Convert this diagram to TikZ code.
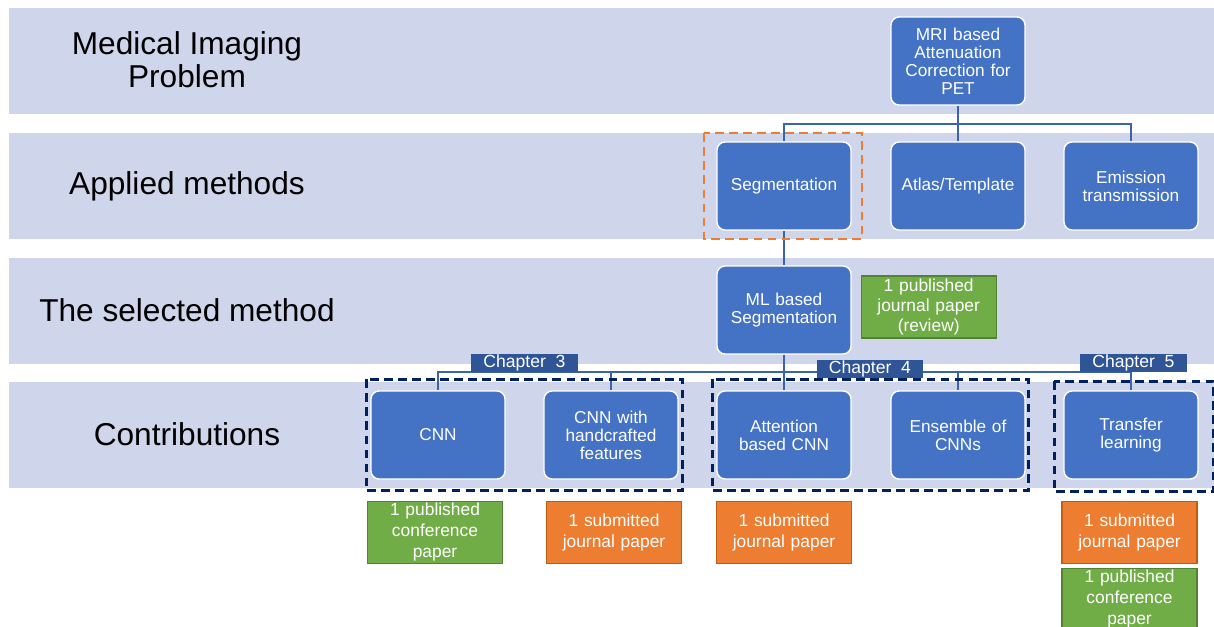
\documentclass[tikz,border=0pt]{standalone}
\usepackage{fontspec}
\setmainfont{Liberation Sans}
\usetikzlibrary{positioning}
\definecolor{bandcol}{HTML}{CFD5EA}
\definecolor{boxblue}{HTML}{4472C4}
\definecolor{linkblue}{HTML}{3A64B0}
\definecolor{chapblue}{HTML}{2F5597}
\definecolor{navy}{HTML}{002060}
\definecolor{papgreen}{HTML}{70AD47}
\definecolor{papgreend}{HTML}{548235}
\definecolor{paporange}{HTML}{ED7D31}
\definecolor{paporanged}{HTML}{C55A11}
\tikzset{
  band/.style = {fill=bandcol, draw=none},% bande de fond
  lbl/.style = {align=center, font=\fontsize{18}{19}\selectfont},% titre de bande
  blk/.style = {rectangle, rounded corners=0.16cm, fill=boxblue, draw=white,
    line width=0.8pt, text=white, align=center, text width=2.5cm, inner sep=0pt,
    minimum width=2.68cm, minimum height=1.76cm,
    font=\fontsize{9.8}{10.3}\selectfont},% boite methode
  pap/.style = {rectangle, text=white, align=center, text width=2.6cm, inner sep=0pt,
    minimum width=2.7cm, minimum height=1.24cm, line width=0.6pt,
    font=\fontsize{9.9}{11.9}\selectfont},% boite article
  pap_g/.style = {pap, fill=papgreen, draw=papgreend},% article publie
  pap_o/.style = {pap, fill=paporange, draw=paporanged},% article soumis
  chap/.style = {rectangle, fill=chapblue, text=white, inner sep=0pt,
    minimum width=2.14cm, minimum height=0.36cm,
    font=\fontsize{10}{11}\selectfont},% etiquette chapitre
  conn/.style = {draw=linkblue, line width=0.8pt},
  grp_o/.style = {draw=paporange, line width=1.2pt, dash pattern=on 5pt off 3pt},
  grp_n/.style = {draw=navy, line width=1.6pt, dash pattern=on 5pt off 3pt}
}

\begin{document}
\begin{tikzpicture}[x=0.02cm,y=-0.02cm]
\useasboundingbox (0,0) rectangle (1214,626);
\clip (0,0) rectangle (1214,626);

\foreach \y in {8,133,258,382}
  \fill[band] (9,\y) rectangle (1214,\y+106);

\node[lbl] (l1) at (187,60) {Medical Imaging\\Problem};
\node[lbl] (l2) at (187,186) {Applied methods};
\node[lbl] (l3) at (187,310) {The selected method};
\node[lbl] (l4) at (187,434) {Contributions};

\node[blk] (mri) at (958,61) {MRI based\\Attenuation\\Correction for\\PET};
\node[blk] (seg) at (784,186) {Segmentation};
\node[blk] (atlas) at (958,186) {Atlas/Template};
\node[blk] (emis) at (1131,186) {Emission\\transmission};
\node[blk] (ml) at (784,310) {ML based\\Segmentation};
\node[blk] (cnn) at (438,435) {CNN};
\node[blk] (cnnhc) at (611,435) {CNN with\\handcrafted\\features};
\node[blk] (att) at (784,435) {Attention\\based CNN};
\node[blk] (ens) at (958,435) {Ensemble of\\CNNs};
\node[blk] (trans) at (1131,435) {Transfer\\learning};

\coordinate (j1) at (958,124);
\coordinate (j2) at (784,372);
\draw[conn] (mri.south) -- (j1);
\foreach \n in {seg,atlas,emis}
  \draw[conn] (j1) -| (\n.north);
\draw[conn] (seg.south) -- (ml.north);
\draw[conn] (ml.south) -- (j2);
\foreach \n in {cnn,cnnhc,att,ens,trans}
  \draw[conn] (j2) -| (\n.north);

\node[chap] (ch3) at (524.5,363) {Chapter\ \ 3};
\node[chap] (ch4) at (870,368.5) {Chapter\ \ 4};
\node[chap] (ch5) at (1133.5,363) {Chapter\ \ 5};

% cadres pointilles
\draw[grp_o] ([shift={(-12,-8)}]seg.north west) rectangle ([shift={(10,8)}]seg.south east);
\draw[grp_n] ([shift={(-4,-11)}]cnn.north west) rectangle ([shift={(4,11)}]cnnhc.south east);
\draw[grp_n] ([shift={(-4,-11)}]att.north west) rectangle ([shift={(3,11)}]ens.south east);
\draw[grp_n] ([shift={(-9,-9)}]trans.north west) rectangle ([shift={(15,12)}]trans.south east);

\node[pap_g, right=0.18cm of ml, yshift=0.06cm, font=\fontsize{9.9}{11.3}\selectfont] (p_ml) {1 published\\journal paper\\(review)};
\node[pap_g, below=0.42cm of cnn, xshift=-0.06cm] (p_cnn) {1 published\\conference\\paper};
\node[pap_o, below=0.42cm of cnnhc, xshift=0.06cm] (p_cnnhc) {1 submitted\\journal paper};
\node[pap_o, below=0.42cm of att] (p_att) {1 submitted\\journal paper};
\node[pap_o, below=0.42cm of trans, xshift=-0.03cm] (p_tr1) {1 submitted\\journal paper};
\node[pap_g, below=0.08cm of p_tr1] (p_tr2) {1 published\\conference\\paper};
\end{tikzpicture}
\end{document}
